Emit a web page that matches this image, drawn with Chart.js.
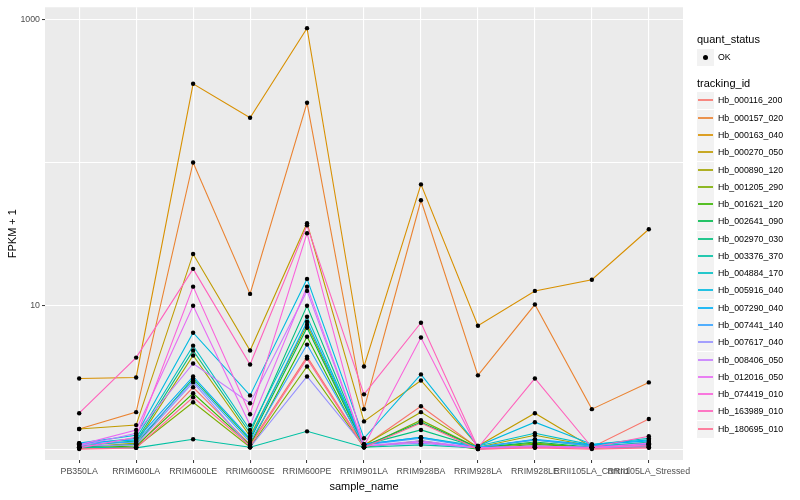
<!DOCTYPE html>
<html>
<head>
<meta charset="utf-8">
<script src="https://cdn.jsdelivr.net/npm/chart.js@4.4.1/dist/chart.umd.min.js"></script>
<style>
body{margin:0;background:#fff;font-family:"Liberation Sans",Arial,sans-serif}
#wrap{position:relative;width:800px;height:500px}
#legend{position:absolute;left:0;top:0}
.lt{position:absolute;left:697px;font-size:11px;line-height:11px;color:#000;white-space:nowrap}
.key{position:absolute;left:697px;width:17px;height:17px;background:#F2F2F2}
.ln{position:absolute;left:1px;right:1px;top:7px;height:2px;opacity:0.85}
.dot{position:absolute;left:6px;top:6px;width:5px;height:5px;border-radius:2.5px;background:#000}
.lab{position:absolute;left:718px;font-size:8.8px;line-height:9px;color:#000;white-space:nowrap}
</style>
</head>
<body>
<div id="wrap"><canvas id="myChart" width="800" height="500"></canvas><div id="legend"></div></div>
<script>
var samples = ["PB350LA", "RRIM600LA", "RRIM600LE", "RRIM600SE", "RRIM600PE", "RRIM901LA",
               "RRIM928BA", "RRIM928LA", "RRIM928LE", "RRII105LA_Control", "RRII105LA_Stressed"];
var trackingIds = ["Hb_000116_200", "Hb_000157_020", "Hb_000163_040", "Hb_000270_050", "Hb_000890_120",
                   "Hb_001205_290", "Hb_001621_120", "Hb_002641_090", "Hb_002970_030", "Hb_003376_370",
                   "Hb_004884_170", "Hb_005916_040", "Hb_007290_040", "Hb_007441_140", "Hb_007617_040",
                   "Hb_008406_050", "Hb_012016_050", "Hb_074419_010", "Hb_163989_010", "Hb_180695_010"];
var lineColours = ["#F8766D", "#EA8331", "#D89000", "#C09B00", "#A3A500", "#7CAE00", "#39B600", "#00BB4E",
                   "#00BF7D", "#00C1A3", "#00BFC4", "#00BAE0", "#00B0F6", "#35A2FF", "#9590FF", "#C77CFF",
                   "#E76BF3", "#FA62DB", "#FF62BC", "#FF6C91"];

// FPKM + 1 per sample, one array per tracking_id
var hb000116 = [1.02, 1.03, 2.70, 1.08, 4.42, 1.05, 1.99, 1.02, 1.05, 1.03, 1.62];
var hb000157 = [1.38, 1.81, 100, 12.1, 261, 1.90, 54.5, 3.27, 10.2, 1.90, 2.92];
var hb000163 = [3.11, 3.16, 354, 205, 866, 3.77, 70.3, 7.26, 12.7, 15.2, 34.2];
var hb000270 = [1.38, 1.47, 23.0, 4.87, 37.7, 1.56, 3.01, 1.05, 1.78, 1.03, 1.05];
var hb000890 = [1.03, 1.10, 4.50, 1.23, 7.38, 1.07, 1.81, 1.03, 1.25, 1.05, 1.07];
var hb001205 = [1.02, 1.03, 2.12, 1.03, 3.77, 1.03, 1.59, 1.02, 1.10, 1.02, 1.03];
var hb001621 = [1.02, 1.05, 2.45, 1.07, 6.09, 1.03, 1.14, 1.00, 1.08, 1.02, 1.05];
var hb002641 = [1.03, 1.08, 3.11, 1.16, 7.03, 1.05, 1.54, 1.02, 1.12, 1.03, 1.08];
var hb002970 = [1.05, 1.14, 4.87, 1.29, 10.0, 1.07, 1.36, 1.03, 1.16, 1.05, 1.10];
var hb003376 = [1.03, 1.02, 1.17, 1.03, 1.33, 1.03, 1.07, 1.02, 1.05, 1.03, 1.12];
var hb004884 = [1.08, 1.19, 5.27, 1.36, 8.39, 1.08, 1.21, 1.05, 1.29, 1.07, 1.19];
var hb005916 = [1.10, 1.25, 6.49, 2.37, 15.4, 1.19, 3.32, 1.05, 1.54, 1.08, 1.16];
var hb007290 = [1.10, 1.16, 3.21, 1.19, 7.74, 1.08, 1.21, 1.03, 1.17, 1.07, 1.14];
var hb007441 = [1.08, 1.12, 3.01, 1.12, 5.36, 1.07, 1.19, 1.03, 1.16, 1.05, 1.08];
var hb007617 = [1.05, 1.07, 2.92, 1.03, 3.21, 1.05, 1.10, 1.02, 1.03, 1.03, 1.03];
var hb008406 = [1.05, 1.29, 3.96, 2.09, 12.7, 1.05, 1.14, 1.02, 1.05, 1.03, 1.05];
var hb012016 = [1.07, 1.36, 10.0, 1.47, 13.6, 1.05, 1.12, 1.02, 1.05, 1.02, 1.10];
var hb074419 = [1.02, 1.21, 13.6, 1.75, 32.1, 1.05, 6.00, 1.00, 1.03, 1.02, 1.07];
var hb163989 = [1.78, 4.35, 18.1, 3.89, 36.5, 2.41, 7.62, 1.02, 3.11, 1.03, 1.23];
var hb180695 = [1.00, 1.02, 2.30, 1.05, 4.28, 1.03, 1.52, 1.00, 1.02, 1.00, 1.02];

var series = [hb000116, hb000157, hb000163, hb000270, hb000890, hb001205, hb001621, hb002641,
              hb002970, hb003376, hb004884, hb005916, hb007290, hb007441, hb007617, hb008406,
              hb012016, hb074419, hb163989, hb180695];

var yTicks = [1, 10, 100, 1000];
var yLabels = ["", "10", "", "1000"];

var fam = '"Liberation Sans", Arial, sans-serif';

var datasets = [];
series.forEach(function(vals, i){
    datasets.push({
        type: "line",
        label: trackingIds[i],
        data: vals.map(function(v, j){ return {x: j, y: v}; }),
        borderColor: lineColours[i],
        borderWidth: 1.1,
        pointRadius: 0,
        fill: false,
        tension: 0,
        order: 100 - i   // later ids drawn on top, like ggplot
    });
});
// quant_status = OK points, drawn over all lines
var okPoints = [];
series.forEach(function(vals){
    vals.forEach(function(v, j){ okPoints.push({x: j, y: v}); });
});
datasets.push({
    type: "scatter",
    label: "OK",
    data: okPoints,
    backgroundColor: "#000",
    borderWidth: 0,
    pointRadius: 2.2,
    order: 0
});

var panelBg = {
    id: "panelBg",
    beforeDraw: function(chart){
        var a = chart.chartArea, c = chart.ctx;
        c.save();
        c.fillStyle = "#EBEBEB";
        c.fillRect(a.left, a.top, a.right - a.left, a.bottom - a.top);
        c.restore();
    }
};

new Chart("myChart", {
    type: "line",
    data: { datasets: datasets },
    plugins: [panelBg],
    options: {
        responsive: false,
        animation: false,
        devicePixelRatio: 1,
        layout: { padding: { top: 5, right: 117, bottom: 0, left: 0 } },
        plugins: { legend: { display: false }, tooltip: { enabled: false } },
        scales: {
            x: {
                type: "linear",
                min: -0.6,
                max: 10.6,
                afterBuildTicks: function(s){ s.ticks = samples.map(function(n, i){ return {value: i}; }); },
                afterFit: function(s){ s.height = 40; },
                ticks: {
                    autoSkip: false, maxRotation: 0, minRotation: 0,
                    color: "#4D4D4D", font: { size: 8.8, family: fam }, padding: 3,
                    callback: function(v){ return samples[v]; }
                },
                grid: { color: "#FFFFFF", lineWidth: 1.1, drawTicks: true, tickLength: 3, tickColor: "#333333", tickWidth: 1 },
                border: { display: false },
                title: { display: true, text: "sample_name", color: "#000", font: { size: 11, family: fam }, padding: { top: 0, bottom: 6 } }
            },
            y: {
                type: "logarithmic",
                min: 0.839,
                max: 1211,
                afterBuildTicks: function(s){ s.ticks = yTicks.map(function(v){ return {value: v}; }); },
                afterFit: function(s){ s.width = 45; },
                ticks: {
                    autoSkip: false, color: "#4D4D4D", font: { size: 8.8, family: fam }, padding: 2,
                    callback: function(v, i){ return yLabels[i]; }
                },
                grid: {
                    color: "#FFFFFF", lineWidth: 1.1, drawTicks: true, tickLength: 3, tickWidth: 1,
                    tickColor: function(c){ return yLabels[c.index] ? "#333333" : "rgba(0,0,0,0)"; }
                },
                border: { display: false },
                title: { display: true, text: "FPKM + 1", color: "#000", font: { size: 11, family: fam }, padding: { top: 6, bottom: 0 } }
            }
        }
    }
});

// ggplot-style legend on the right
var lg = document.getElementById("legend");
function add(html){ lg.insertAdjacentHTML("beforeend", html); }
add('<div class="lt" style="top:34px">quant_status</div>');
add('<div class="key" style="top:49px"><div class="dot"></div></div>');
add('<div class="lab" style="top:53px">OK</div>');
add('<div class="lt" style="top:78px">tracking_id</div>');
trackingIds.forEach(function(id, i){
    var top = Math.round(92.4 + i * 17.28);
    add('<div class="key" style="top:' + top + 'px"><div class="ln" style="background:' + lineColours[i] + '"></div></div>');
    add('<div class="lab" style="top:' + (top + 4) + 'px">' + id + '</div>');
});
</script>
</body>
</html>
